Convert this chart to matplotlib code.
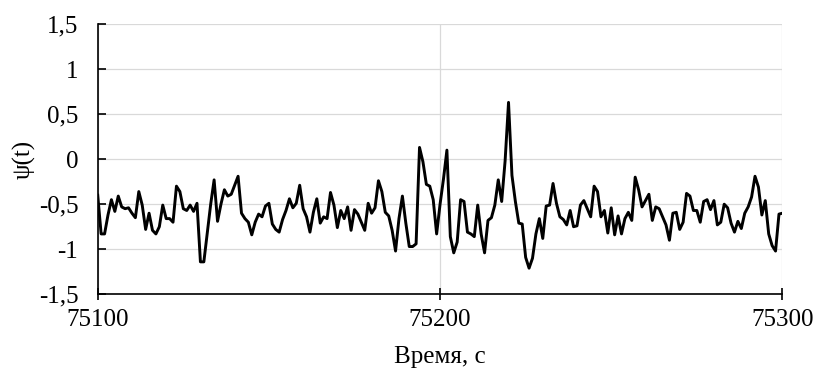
import matplotlib
matplotlib.use("Agg")
import matplotlib.pyplot as plt
import numpy as np

# ---- data ----
t_start = 75100
psi = [
    -0.40, -0.83, -0.83, -0.62, -0.45, -0.58, -0.41, -0.53, -0.55, -0.54,
    -0.60, -0.65, -0.36, -0.51, -0.78, -0.60, -0.79, -0.83, -0.75, -0.51,
    -0.66, -0.66, -0.70, -0.30, -0.36, -0.55, -0.57, -0.51, -0.58, -0.49,
    -1.14, -1.14, -0.82, -0.50, -0.23, -0.69, -0.50, -0.34, -0.41, -0.39,
    -0.29, -0.19, -0.60, -0.66, -0.70, -0.84, -0.70, -0.61, -0.64, -0.52,
    -0.49, -0.72, -0.78, -0.81, -0.67, -0.57, -0.44, -0.54, -0.49, -0.29,
    -0.55, -0.64, -0.81, -0.59, -0.44, -0.71, -0.64, -0.66, -0.37, -0.51,
    -0.76, -0.57, -0.66, -0.53, -0.79, -0.56, -0.61, -0.70, -0.79, -0.49,
    -0.60, -0.54, -0.24, -0.36, -0.59, -0.63, -0.79, -1.02, -0.66, -0.41,
    -0.71, -0.97, -0.97, -0.94, 0.13, -0.03, -0.28, -0.30, -0.45, -0.83,
    -0.50, -0.22, 0.10, -0.86, -1.04, -0.92, -0.45, -0.47, -0.81, -0.83,
    -0.86, -0.51, -0.83, -1.04, -0.68, -0.65, -0.51, -0.23, -0.47, -0.02,
    0.63, -0.18, -0.47, -0.71, -0.72, -1.09, -1.21, -1.10, -0.83, -0.66,
    -0.88, -0.52, -0.51, -0.27, -0.49, -0.64, -0.67, -0.73, -0.57, -0.75,
    -0.74, -0.51, -0.46, -0.55, -0.64, -0.30, -0.36, -0.64, -0.57, -0.82,
    -0.54, -0.84, -0.63, -0.83, -0.66, -0.59, -0.68, -0.20, -0.34, -0.53,
    -0.46, -0.39, -0.68, -0.53, -0.55, -0.64, -0.73, -0.90, -0.60, -0.59,
    -0.78, -0.70, -0.38, -0.41, -0.57, -0.57, -0.70, -0.47, -0.45, -0.56,
    -0.46, -0.73, -0.70, -0.50, -0.54, -0.71, -0.81, -0.69, -0.77, -0.60,
    -0.53, -0.42, -0.19, -0.31, -0.62, -0.46, -0.83, -0.96, -1.02, -0.61,
    -0.60,
]
time = [t_start + i for i in range(len(psi))]

x_ticks = [75100, 75200, 75300]
x_tick_labels = ["75100", "75200", "75300"]
y_ticks = [-1.5, -1.0, -0.5, 0.0, 0.5, 1.0, 1.5]
y_tick_labels = ["-1,5", "-1", "-0,5", "0", "0,5", "1", "1,5"]
x_label = "Время, с"
y_label = "ψ(t)"

# ---- style ----
plt.rcParams["font.family"] = ["Liberation Serif", "DejaVu Serif"]
plt.rcParams["axes.unicode_minus"] = False

fig = plt.figure(figsize=(8.15, 3.73), dpi=100)
ax = fig.add_axes([0.1199, 0.211, 0.8401, 0.7247])

ax.plot(time, psi, color="black", linewidth=2.1, solid_joinstyle="round")

ax.set_xlim(75100, 75300)
ax.set_ylim(-1.5, 1.5)
ax.set_xticks(x_ticks)
ax.set_xticklabels(x_tick_labels)
ax.set_yticks(y_ticks)
ax.set_yticklabels(y_tick_labels)

ax.grid(True, color="#d9d9d9", linewidth=0.9)
ax.set_axisbelow(True)

for s in ["top", "right"]:
    ax.spines[s].set_visible(False)
for s in ["left", "bottom"]:
    ax.spines[s].set_color("black")
    ax.spines[s].set_linewidth(1.2)

ax.tick_params(axis="y", direction="in", length=5.5, width=1.2,
               labelsize=18, pad=14, colors="black")
ax.tick_params(axis="x", direction="inout", length=9, width=1.2,
               labelsize=18, pad=6, colors="black")

ax.set_xlabel(x_label, fontsize=18)
ax.set_ylabel(y_label, fontsize=18)
ax.xaxis.set_label_coords(0.5, -0.19)
ax.yaxis.set_label_coords(-0.09, 0.5)

fig.savefig("out.png", dpi=100)
